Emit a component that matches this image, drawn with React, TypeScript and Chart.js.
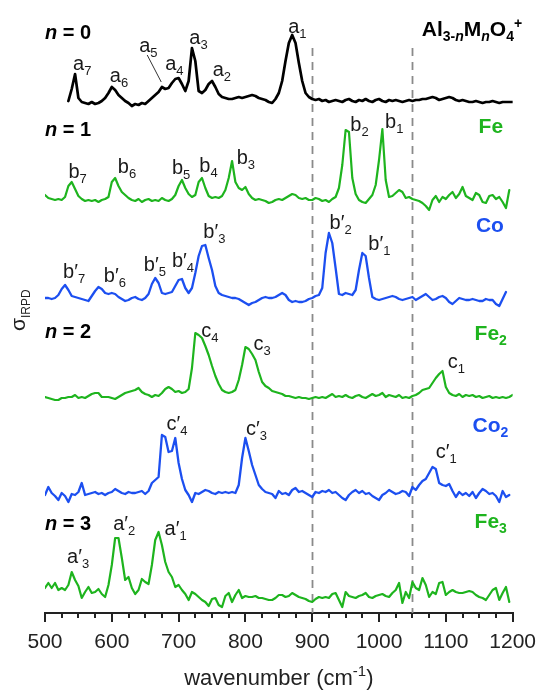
import React, { useEffect, useRef } from "react";
import { Chart, registerables } from "chart.js";

Chart.register(...registerables);

const FONT = '"Liberation Sans", Arial, Helvetica, sans-serif';
const GREEN = "#1eb41e";
const BLUE = "#1c4ff0";
const INK = "#1a1a1a";

// wavenumber grid (cm-1)
const WAVENUMBERS = [
  500, 505, 510, 515, 520, 525, 530, 535, 540, 545,
  550, 555, 560, 565, 570, 575, 580, 585, 590, 595,
  600, 605, 610, 615, 620, 625, 630, 635, 640, 645,
  650, 655, 660, 665, 670, 675, 680, 685, 690, 695,
  700, 705, 710, 715, 720, 725, 730, 735, 740, 745,
  750, 755, 760, 765, 770, 775, 780, 785, 790, 795,
  800, 805, 810, 815, 820, 825, 830, 835, 840, 845,
  850, 855, 860, 865, 870, 875, 880, 885, 890, 895,
  900, 905, 910, 915, 920, 925, 930, 935, 940, 945,
  950, 955, 960, 965, 970, 975, 980, 985, 990, 995,
  1000, 1005, 1010, 1015, 1020, 1025, 1030, 1035, 1040, 1045,
  1050, 1055, 1060, 1065, 1070, 1075, 1080, 1085, 1090, 1095,
  1100, 1105, 1110, 1115, 1120, 1125, 1130, 1135, 1140, 1145,
  1150, 1155, 1160, 1165, 1170, 1175, 1180, 1185, 1190, 1195,
  1200,
];

// IRPD intensities (arbitrary units), one value per wavenumber
const N0_AL3O4 = [
  null, null, null, null, null, null, null, 0, 12, 27,
  3, -1, -2, -3, -1, -3, -2, 0, 3, 8,
  14, 11, 6, 3, 0, -2, -5, -3, -4, -2,
  -3, 0, 3, 6, 9, 14, 12, 13, 18, 22,
  23, 17, 10, 20, 53, 40, 10, 8, 11, 17,
  20, 14, 7, 4, 3, 2, 2, 3, 4, 3,
  4, 5, 6, 5, 3, 2, 1, -1, -2, 2,
  8, 20, 40, 58, 66, 58, 38, 20, 8, 4,
  2, 1, 2, 0, 1, -1, 0, 1, 0, -1,
  1, 2, 0, -1, 1, 0, 2, 0, -1, 1,
  2, 0, -1, 1, 0, 1, 0, -1, 0, 1,
  0, 1, 1, 2, 2, 3, 4, 3, 1, 2,
  3, 4, 3, 1, 0, 1, 0, -1, -1, 0,
  -1, -2, -1, -1, 0, -1, -2, -1, -1, -1,
  -1,
];

const N1_FE = [
  5, 2, 1, 0, 1, 0, 3, 14, 18, 11,
  4, 1, -1, 0, -1, 0, -2, 0, 1, 3,
  18, 22, 14, 8, 5, 2, 0, -1, 1, -2,
  0, 1, -1, 0, -1, 2, 0, -1, 1, 5,
  14, 20, 12, 6, 3, 5, 18, 22, 12, 4,
  2, 3, 2, 4, 10, 22, 39, 18, 12, 10,
  13, 6, 2, 0, 1, 0, -1, -3, -2, 0,
  1, 0, 2, 4, 6, 5, 2, 1, 2, 0,
  0, 2, 1, -1, 0, -2, 1, 3, 12, 35,
  70, 68, 22, 6, 0, -2, -3, 1, 5, 15,
  40, 71, 20, 3, 4, 7, 10, 8, 2, 3,
  1, 0, -1, -3, -6, -10, 0, 4, -2, 3,
  1, 5, 8, 2, 6, 13, 4, 2, 0, 7,
  5, -2, -3, 4, 5, 1, 3, -2, -8, 10,
  null,
];

const N1_CO = [
  0, 0, -1, 0, 3, 9, 13, 8, 2, 1,
  0, -1, -2, -3, 2, 7, 11, 9, 5, 4,
  5, 4, 1, -1, -3, -2, 0, 1, -1, -2,
  0, 4, 14, 20, 15, 5, 4, 5, 6, 12,
  18, 19, 10, 5, 10, 25, 42, 52, 53, 40,
  28, 12, 5, 3, 2, 1, 0, 0, -1, -3,
  -5, -7, -5, -4, -2, 0, 1, 0, 0, 1,
  3, 5, 3, -2, -4, -3, -4, -4, -3, -1,
  0, 2, 3, 10, 45, 65, 55, 30, 4, 3,
  5, 4, 3, 8, 28, 45, 42, 20, 1, -1,
  -2, -1, 0, 1, 2, 1, -1, -2, -1, 0,
  1, -2, 0, 2, 4, 1, -2, -1, 1, 2,
  0, -4, -6, -3, 0, -1, -2, -2, -1, -2,
  -3, -3, -1, -2, -2, -6, -8, -1, 6, null,
  null,
];

const N2_FE2 = [
  1, 0, -1, -2, -2, 0, 0, 1, 1, 3,
  0, 1, 0, 2, 4, 5, 5, 1, 1, 1,
  0, -1, 1, 3, 5, 6, 7, 8, 10, 6,
  4, 3, 1, 3, 2, 5, 9, 11, 9, 6,
  7, 5, 6, 9, 30, 65, 63, 60, 52, 43,
  32, 22, 14, 8, 6, 5, 6, 8, 18, 33,
  51, 49, 44, 38, 26, 16, 12, 10, 7, 6,
  5, 4, 2, 2, 1, 0, 1, 0, 0, -1,
  0, 1, 0, 1, 0, 2, 4, 1, 2, 1,
  3, 1, 0, 2, 3, 1, 0, 2, 4, 2,
  3, 5, 1, 3, 2, 1, 3, 0, 1, 0,
  2, 3, 5, 8, 9, 10, 15, 20, 24, 27,
  11, 5, 3, 2, 4, 1, 3, 2, 3, 1,
  2, 0, 1, 2, 0, 1, 0, 1, 0, 1,
  3,
];

const N2_CO2 = [
  -2, 6, 0, -3, -7, 0, -3, -9, -1, -2,
  1, 10, -2, -1, 0, 1, -1, 0, -2, 0,
  1, 4, 2, 0, -1, 1, 0, 0, 1, 2,
  -1, 2, 10, 13, 16, 58, 56, 41, 42, 55,
  30, 14, 3, -2, -9, 0, -1, 1, 3, 2,
  0, -1, 1, 0, 1, 0, 1, 0, 8, 35,
  55, 42, 28, 18, 8, 4, 1, 0, -1, -5,
  2, -1, 0, -2, 3, 5, 1, 2, 0, -2,
  -4, 1, 0, 2, 1, 3, 0, 1, -2, -5,
  -7, -2, 1, 3, 0, 2, -1, 0, -3, -5,
  -7, -2, 0, 3, 1, -1, 0, 2, 1, -3,
  6, 3, 8, 12, 14, 20, 26, 24, 10, 8,
  7, 9, 2, -4, 1, -2, 0, -3, 1, -5,
  0, 4, 2, -1, 0, -3, -9, 2, -4, -2,
  null,
];

const N3_FE3 = [
  2, 7, 2, 7, 0, 2, 0, 5, 18, 10,
  4, -8, -2, 3, -3, -2, 1, -4, -7, 5,
  25, 52, 52, 32, 10, 13, 2, -4, 0, 11,
  8, 6, 25, 50, 58, 45, 28, 18, 13, 3,
  5, 0, -4, -10, -2, -4, -7, -10, -12, -16,
  -9, -8, -15, -17, -6, -3, -12, -5, 0, -8,
  -6, -7, -7, -6, -8, -8, -9, -10, -10, -8,
  -5, -5, -7, -6, -3, -5, -7, -8, -9, -11,
  -12, -9, -7, -8, -7, -8, -4, -3, -10, -17,
  -2, -6, -7, -8, -6, -5, -3, -7, -8, -6,
  -5, -4, -6, -7, -3, 0, 7, -13, -2, -8,
  8, 2, 0, 12, 5, -7, -2, -4, 7, 8,
  -5, -2, 0, -2, -3, -3, -2, -1, -2, -5,
  -7, -8, -10, -5, 0, 2, -10, -3, 3, -12,
  null,
];

const SERIES = [N0_AL3O4, N1_FE, N1_CO, N2_FE2, N2_CO2, N3_FE3];
const SERIES_NAMES = ["Al3O4+", "Al2FeO4+", "Al2CoO4+", "AlFe2O4+", "AlCo2O4+", "Fe3O4+"];
const SERIES_COLORS = ["#000000", GREEN, BLUE, GREEN, BLUE, GREEN];
const SERIES_WIDTHS = [2.7, 2.2, 2.3, 2.2, 2.3, 2.2];
const STACK_OFFSETS = [512, 413, 315, 215, 120, 23];

const X_TICKS = [500, 600, 700, 800, 900, 1000, 1100, 1200];
const DASHED_AT = [900, 1050];

// peak labels: letter, prime, subscript, wavenumber, stacked height
const PEAK_LABELS = [
  { l: "a", p: false, s: "7", x: 542, y: 543 },
  { l: "a", p: false, s: "6", x: 597, y: 531 },
  { l: "a", p: false, s: "5", x: 641, y: 561 },
  { l: "a", p: false, s: "4", x: 680, y: 543 },
  { l: "a", p: false, s: "3", x: 716, y: 569 },
  { l: "a", p: false, s: "2", x: 751, y: 537 },
  { l: "a", p: false, s: "1", x: 864, y: 580 },
  { l: "b", p: false, s: "7", x: 535, y: 435 },
  { l: "b", p: false, s: "6", x: 609, y: 440 },
  { l: "b", p: false, s: "5", x: 690, y: 439 },
  { l: "b", p: false, s: "4", x: 731, y: 441 },
  { l: "b", p: false, s: "3", x: 787, y: 449 },
  { l: "b", p: false, s: "2", x: 957, y: 482 },
  { l: "b", p: false, s: "1", x: 1009, y: 485 },
  { l: "b", p: true, s: "7", x: 527, y: 335 },
  { l: "b", p: true, s: "6", x: 588, y: 331 },
  { l: "b", p: true, s: "5", x: 648, y: 342 },
  { l: "b", p: true, s: "4", x: 690, y: 346 },
  { l: "b", p: true, s: "3", x: 737, y: 375 },
  { l: "b", p: true, s: "2", x: 926, y: 384 },
  { l: "b", p: true, s: "1", x: 984, y: 363 },
  { l: "c", p: false, s: "4", x: 734, y: 276 },
  { l: "c", p: false, s: "3", x: 812, y: 263 },
  { l: "c", p: false, s: "1", x: 1103, y: 245 },
  { l: "c", p: true, s: "4", x: 682, y: 183 },
  { l: "c", p: true, s: "3", x: 801, y: 178 },
  { l: "c", p: true, s: "1", x: 1085, y: 155 },
  { l: "a", p: true, s: "3", x: 533, y: 50 },
  { l: "a", p: true, s: "2", x: 602, y: 83 },
  { l: "a", p: true, s: "1", x: 679, y: 78 },
];

const N_LABELS = [
  { n: "0", x: 500, y: 574 },
  { n: "1", x: 500, y: 477 },
  { n: "2", x: 500, y: 275 },
  { n: "3", x: 500, y: 83 },
];

const METAL_LABELS = [
  { t: "Fe", s: "", c: GREEN, x: 1149, y: 480 },
  { t: "Co", s: "", c: BLUE, x: 1145, y: 381 },
  { t: "Fe", s: "2", c: GREEN, x: 1143, y: 273 },
  { t: "Co", s: "2", c: BLUE, x: 1140, y: 181 },
  { t: "Fe", s: "3", c: GREEN, x: 1143, y: 85 },
];

const FORMULA_POS = { x: 1064, y: 577 };
const A5_LEADER = [
  { x: 653, y: 558 },
  { x: 674, y: 531 },
];

type Seg = { t: string; size: number; bold?: boolean; italic?: boolean; dy?: number };

function font(s: Seg) {
  return `${s.italic ? "italic " : ""}${s.bold ? "bold " : ""}${s.size}px ${FONT}`;
}

function segWidth(ctx: CanvasRenderingContext2D, segs: Seg[]) {
  let w = 0;
  for (const s of segs) {
    ctx.font = font(s);
    w += ctx.measureText(s.t).width;
  }
  return w;
}

function drawSegs(ctx: CanvasRenderingContext2D, segs: Seg[], x: number, y: number, color: string) {
  let cx = x;
  ctx.fillStyle = color;
  ctx.textAlign = "left";
  ctx.textBaseline = "alphabetic";
  for (const s of segs) {
    ctx.font = font(s);
    ctx.fillText(s.t, cx, y + (s.dy || 0));
    cx += ctx.measureText(s.t).width;
  }
}

const decorPlugin = {
  id: "decor",
  beforeDatasetsDraw(chart: any) {
    const ctx: CanvasRenderingContext2D = chart.ctx;
    const xs = chart.scales.x;
    const ys = chart.scales.y;
    ctx.save();
    ctx.strokeStyle = "#8a8a8a";
    ctx.lineWidth = 1.8;
    ctx.setLineDash([8, 6]);
    for (const v of DASHED_AT) {
      const px = Math.round(xs.getPixelForValue(v)) + 0.5;
      ctx.beginPath();
      ctx.moveTo(px, ys.getPixelForValue(565));
      ctx.lineTo(px, ys.getPixelForValue(0));
      ctx.stroke();
    }
    ctx.restore();
  },
  afterDraw(chart: any) {
    const ctx: CanvasRenderingContext2D = chart.ctx;
    const xs = chart.scales.x;
    const ys = chart.scales.y;
    const area = chart.chartArea;
    ctx.save();

    // minor ticks
    ctx.strokeStyle = "#222";
    ctx.lineWidth = 2;
    for (let v = 525; v < 1200; v += 25) {
      if (v % 100 === 0) continue;
      const px = Math.round(xs.getPixelForValue(v));
      ctx.beginPath();
      ctx.moveTo(px, area.bottom);
      ctx.lineTo(px, area.bottom + 5);
      ctx.stroke();
    }

    // a5 leader
    ctx.strokeStyle = "#333";
    ctx.lineWidth = 1;
    ctx.beginPath();
    ctx.moveTo(xs.getPixelForValue(A5_LEADER[0].x), ys.getPixelForValue(A5_LEADER[0].y));
    ctx.lineTo(xs.getPixelForValue(A5_LEADER[1].x), ys.getPixelForValue(A5_LEADER[1].y));
    ctx.stroke();

    // peak labels
    for (const p of PEAK_LABELS) {
      const segs: Seg[] = [{ t: p.l, size: 20 }];
      if (p.p) segs.push({ t: "\u2032", size: 20 });
      segs.push({ t: p.s, size: 13, dy: 5 });
      drawSegs(ctx, segs, xs.getPixelForValue(p.x), ys.getPixelForValue(p.y), INK);
    }

    // n labels
    for (const n of N_LABELS) {
      drawSegs(
        ctx,
        [
          { t: "n", size: 20, bold: true, italic: true },
          { t: " = " + n.n, size: 20, bold: true },
        ],
        xs.getPixelForValue(n.x),
        ys.getPixelForValue(n.y),
        "#000"
      );
    }

    // metal labels
    for (const m of METAL_LABELS) {
      const segs: Seg[] = [{ t: m.t, size: 21, bold: true }];
      if (m.s) segs.push({ t: m.s, size: 14, bold: true, dy: 5 });
      drawSegs(ctx, segs, xs.getPixelForValue(m.x), ys.getPixelForValue(m.y), m.c);
    }

    // formula
    drawSegs(
      ctx,
      [
        { t: "Al", size: 21, bold: true },
        { t: "3-", size: 14, bold: true, dy: 5 },
        { t: "n", size: 14, bold: true, italic: true, dy: 5 },
        { t: "M", size: 21, bold: true },
        { t: "n", size: 14, bold: true, italic: true, dy: 5 },
        { t: "O", size: 21, bold: true },
        { t: "4", size: 14, bold: true, dy: 5 },
        { t: "+", size: 14, bold: true, dy: -8 },
      ],
      xs.getPixelForValue(FORMULA_POS.x),
      ys.getPixelForValue(FORMULA_POS.y),
      "#000"
    );

    // x axis title
    const xt: Seg[] = [
      { t: "wavenumber (cm", size: 22 },
      { t: "-1", size: 15, dy: -9 },
      { t: ")", size: 22 },
    ];
    const w = segWidth(ctx, xt);
    drawSegs(ctx, xt, (area.left + area.right) / 2 - w / 2, 685, "#222");

    // y axis title (rotated)
    ctx.save();
    ctx.translate(25, 331);
    ctx.rotate(-Math.PI / 2);
    drawSegs(
      ctx,
      [
        { t: "\u03c3", size: 21 },
        { t: "IRPD", size: 12, dy: 5 },
      ],
      0,
      0,
      "#222"
    );
    ctx.restore();

    ctx.restore();
  },
};

export default function App() {
  const ref = useRef<HTMLCanvasElement | null>(null);

  useEffect(() => {
    document.body.style.margin = "0";
    const canvas = ref.current;
    if (!canvas) return;

    const datasets = SERIES.map((vals, i) => ({
      label: SERIES_NAMES[i],
      data: WAVENUMBERS.map((x, j) => ({
        x,
        y: vals[j] === null || vals[j] === undefined ? null : (vals[j] as number) + STACK_OFFSETS[i],
      })),
      borderColor: SERIES_COLORS[i],
      backgroundColor: SERIES_COLORS[i],
      borderWidth: SERIES_WIDTHS[i],
      pointRadius: 0,
      tension: 0,
      fill: false,
      borderJoinStyle: "round" as const,
      borderCapStyle: "round" as const,
      spanGaps: false,
    }));

    const chart = new Chart(canvas, {
      type: "line",
      data: { datasets },
      options: {
        responsive: false,
        animation: false,
        devicePixelRatio: 1,
        layout: { padding: { left: 45, right: 30, top: 32, bottom: 0 } },
        plugins: { legend: { display: false }, tooltip: { enabled: false } },
        scales: {
          x: {
            type: "linear",
            min: 500,
            max: 1200,
            afterFit: (s: any) => {
              s.height = 77;
            },
            afterBuildTicks: (s: any) => {
              s.ticks = X_TICKS.map((v) => ({ value: v }));
            },
            border: { display: true, color: "#222", width: 2 },
            grid: {
              display: true,
              drawOnChartArea: false,
              drawTicks: true,
              tickLength: 9,
              color: "#222",
              lineWidth: 2,
            },
            ticks: {
              autoSkip: false,
              maxRotation: 0,
              padding: 8,
              color: "#222",
              font: { family: FONT, size: 21 },
              callback: (v: any) => String(v),
            },
          },
          y: {
            display: false,
            min: 0,
            max: 581,
          },
        },
      },
      plugins: [decorPlugin],
    });

    return () => chart.destroy();
  }, []);

  return (
    <div style={{ width: 544, height: 690 }}>
      <canvas ref={ref} width={544} height={690} style={{ display: "block", width: 544, height: 690 }} />
    </div>
  );
}
